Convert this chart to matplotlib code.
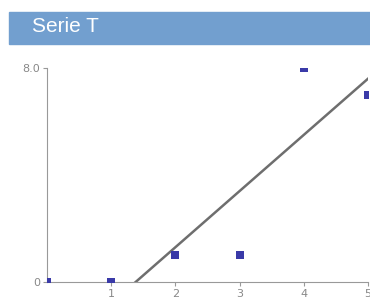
import numpy as np
import matplotlib
matplotlib.use("Agg")
import matplotlib.pyplot as plt
from matplotlib.patches import Rectangle

xs = [0, 1, 2, 3, 4, 5]
ys = [0, 0, 1, 1, 8, 7]
yTicks = [0, 8]
yTickLabels = ["0", "8.0"]
xTicks = [1, 2, 3, 4, 5]
title = "Serie T"

fig = plt.figure(figsize=(3.7, 3.0), dpi=100)

# barra do titulo
fig.patches.append(Rectangle((9 / 370, 1 - 44 / 300), 1, 32 / 300,
                             transform=fig.transFigure, color="#729fcf", zorder=0))
fig.text(32 / 370, 1 - 26 / 300, title, color="white", fontsize=15,
         family="Liberation Sans", va="center", ha="left")

ax = fig.add_axes([47 / 370, 1 - 282 / 300, 321 / 370, 214 / 300])
ax.set_xlim(0, 5)
ax.set_ylim(0, 8)

ax.scatter(xs, ys, marker="s", s=40, color="#3a3aa8", zorder=3, clip_on=True, linewidths=0)

# linha de tendencia (a partir de x=1)
coef = np.polyfit(xs[1:], ys[1:], 1)
lx = np.array([0, 6])
ax.plot(lx, np.polyval(coef, lx), color="#6e6e6e", lw=1.8, zorder=2)

for side in ["top", "right"]:
    ax.spines[side].set_visible(False)
for side in ["left", "bottom"]:
    ax.spines[side].set_color("#999999")
ax.set_xticks(xTicks)
ax.set_yticks(yTicks)
ax.set_yticklabels(yTickLabels)
ax.tick_params(colors="#999999", labelcolor="#888888", labelsize=8, length=3, width=0.8, pad=2)

fig.savefig("out.png", dpi=100)
